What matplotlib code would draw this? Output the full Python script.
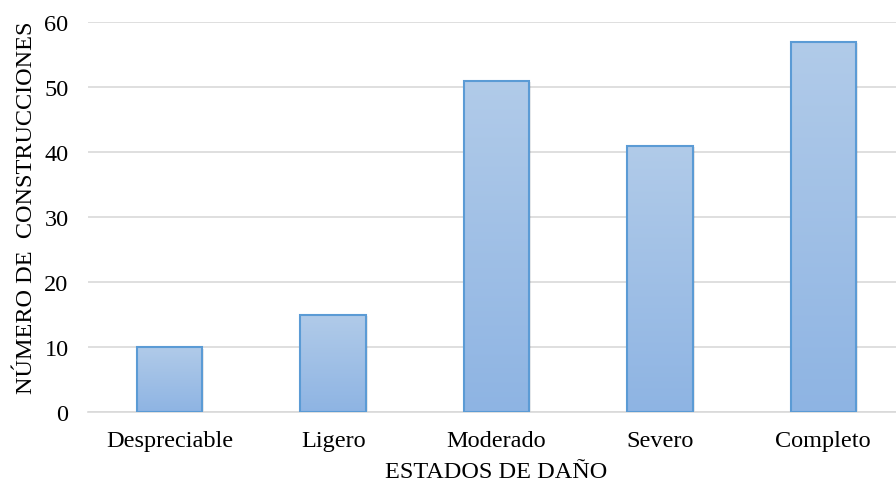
import numpy as np
import matplotlib.pyplot as plt
from matplotlib.colors import LinearSegmentedColormap

# datos
estados = ['Despreciable', 'Ligero', 'Moderado', 'Severo', 'Completo']
construcciones = [10, 15, 51, 41, 57]

plt.rcParams['font.family'] = ['Liberation Serif', 'DejaVu Serif']

fig = plt.figure(figsize=(8.96, 4.85), dpi=100)
ax = fig.add_axes([88 / 896, 72 / 485, 817 / 896, 390 / 485])

x = np.arange(len(estados))
bars = ax.bar(x, construcciones, width=0.40, color='none',
              edgecolor='#5B9BD5', linewidth=1.5, zorder=3)

# relleno degradado dentro de cada barra
cmap = LinearSegmentedColormap.from_list('azul', ['#8EB4E3', '#B1CBE9'])
grad = np.linspace(0, 1, 256).reshape(-1, 1)
for b in bars:
    x0, w, h = b.get_x(), b.get_width(), b.get_height()
    # sombra suave
    ax.bar(x0 + w / 2 + 0.012, h, width=w, bottom=-0.25, color='#000000',
           alpha=0.08, linewidth=0, zorder=1)
    im = ax.imshow(grad, extent=[x0, x0 + w, 0, h], origin='lower',
                   aspect='auto', cmap=cmap, zorder=2)
    im.set_clip_path(b)

ax.set_xlim(-0.5, len(estados) - 0.5)
ax.set_ylim(0, 60)
ax.set_yticks(range(0, 61, 10))
ax.set_xticks(x)
ax.set_xticklabels(estados)
ax.yaxis.grid(True, color='#D9D9D9', linewidth=1.2, zorder=0)
ax.set_axisbelow(True)

for s in ['top', 'right', 'left']:
    ax.spines[s].set_visible(False)
ax.spines['bottom'].set_color('#D9D9D9')
ax.spines['bottom'].set_linewidth(1.2)
ax.tick_params(axis='both', length=0, labelsize=17.5, colors='black')
ax.tick_params(axis='y', pad=14)
ax.tick_params(axis='x', pad=13)

ax.set_xlabel('ESTADOS DE DAÑO', fontsize=17.5, labelpad=7)
ax.set_ylabel('NÚMERO DE  CONSTRUCCIONES', fontsize=17.5)
ax.yaxis.set_label_coords(-0.062, 0.525)

plt.savefig('out.png', dpi=100)
